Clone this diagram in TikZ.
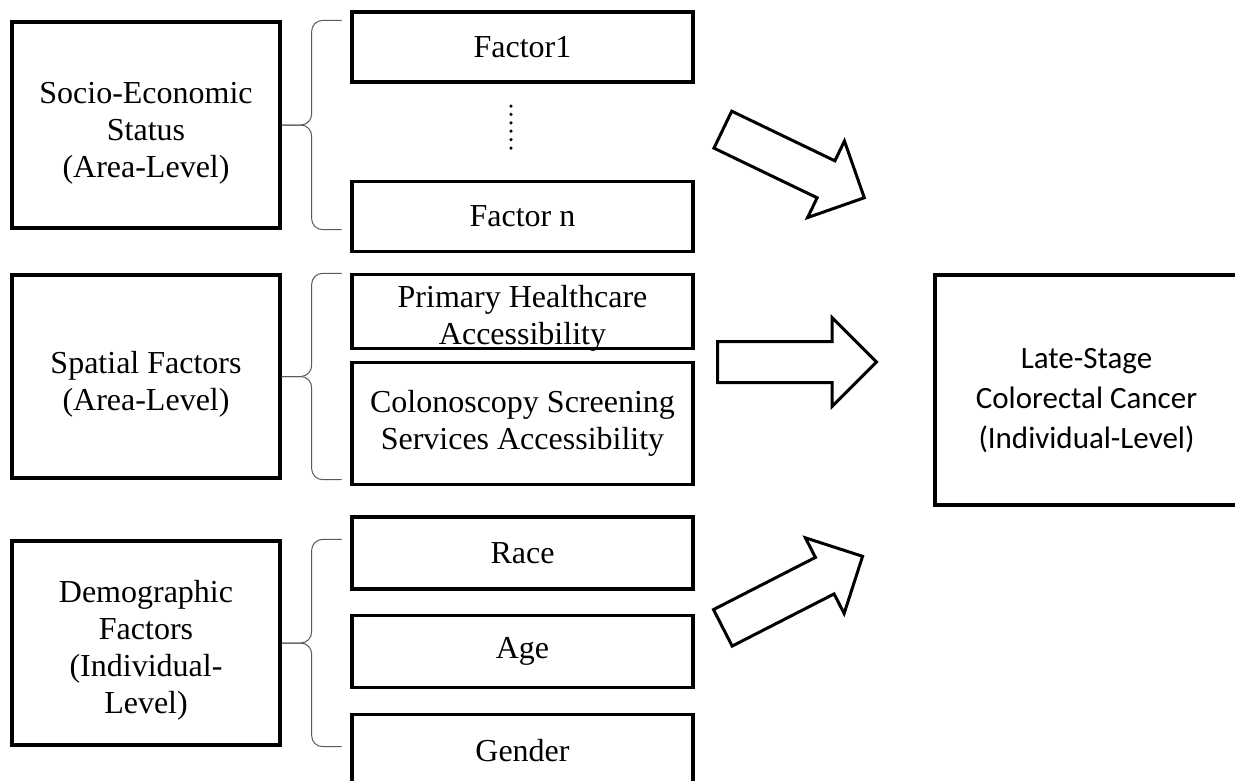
\documentclass[tikz,border=0pt]{standalone}
\usepackage{fontspec}
\setmainfont{Liberation Serif}
\newfontfamily\calfont{Carlito}
\usetikzlibrary{shapes.arrows,positioning}

% lines of a box, set a little below the centre
\newcommand{\lowtext}[2][8pt]{\raisebox{-#1}[\height][\depth]{\begin{tabular}{@{}c@{}}#2\end{tabular}}}

\tikzset{
  grpbox/.style={draw, line width=3.3pt, rectangle, minimum width=268pt, minimum height=204pt, inner sep=0pt, align=center, font=\fontsize{32}{37}\selectfont},
  itembox/.style={draw, line width=3.3pt, rectangle, minimum width=341pt, minimum height=72pt, inner sep=0pt, align=center, font=\fontsize{32}{37}\selectfont},
  outbox/.style={draw, line width=3.3pt, rectangle, minimum width=303pt, minimum height=230pt, inner sep=0pt, align=center, font=\calfont\fontsize{31}{40}\selectfont},
  blockarrow/.style={draw, line width=3pt, single arrow, anchor=tail, inner xsep=0pt, inner ysep=19pt, single arrow head extend=22pt, minimum height=157pt},
  grpbrace/.style={draw=gray!70!black, line width=1pt, rounded corners=11pt},
  dotline/.style={line width=3.5pt, line cap=round, dash pattern=on 0pt off 8.4pt}
}

\begin{document}
\begin{tikzpicture}[x=1pt,y=-1pt]
\useasboundingbox (0,0) rectangle (1235,780);

% group boxes
\node[grpbox, minimum height=206pt] (ses) at (146,125) {\lowtext{Socio-Economic\\Status\\(Area-Level)}};
\node[grpbox, minimum height=203pt] (spat) at (146,376.5) {\lowtext{Spatial Factors\\(Area-Level)}};
\node[grpbox] (demo) at (146,643) {\lowtext{Demographic\\Factors\\(Individual-\\Level)}};

% factor boxes
\node[itembox, minimum height=70pt] (f1) at (522.5,47) {Factor1};
\node[itembox, minimum height=70pt, below=96pt of f1] (fn) {Factor n};
\node[itembox, minimum height=73pt] (phc) at (522.5,311.5) {\lowtext[7pt]{Primary Healthcare\\Accessibility}};
\node[itembox, minimum height=122pt, below=11pt of phc] (csc) {Colonoscopy Screening\\Services Accessibility};
\node[itembox] (race) at (522.5,553) {Race};
\node[itembox, below=23pt of race] (age) {Age};
\node[itembox, below=24pt of age] (gender) {Gender};

% outcome
\node[outbox] (out) at (1086.5,390) {\lowtext[10pt]{Late-Stage\\Colorectal Cancer\\(Individual-Level)}};

\coordinate (dtop) at (511,106);
\coordinate (dbot) at (511,148);
\draw[dotline] (dtop) -- (dbot);

% braces
\foreach \g in {ses,spat,demo}{
  \draw[grpbrace] ([xshift=60pt]\g.north east) -| ([xshift=30pt]\g.east) -- (\g.east);
  \draw[grpbrace] ([xshift=60pt]\g.south east) -| ([xshift=30pt]\g.east) -- (\g.east);
}

% block arrows
\node[blockarrow, rotate=-25.7] (a1) at (721.5,129) {};
\node[blockarrow, single arrow head extend=24pt, minimum height=159pt] (a2) at (716,362) {};
\node[blockarrow, rotate=27.1] (a3) at (721.5,628.5) {};

\end{tikzpicture}
\end{document}
